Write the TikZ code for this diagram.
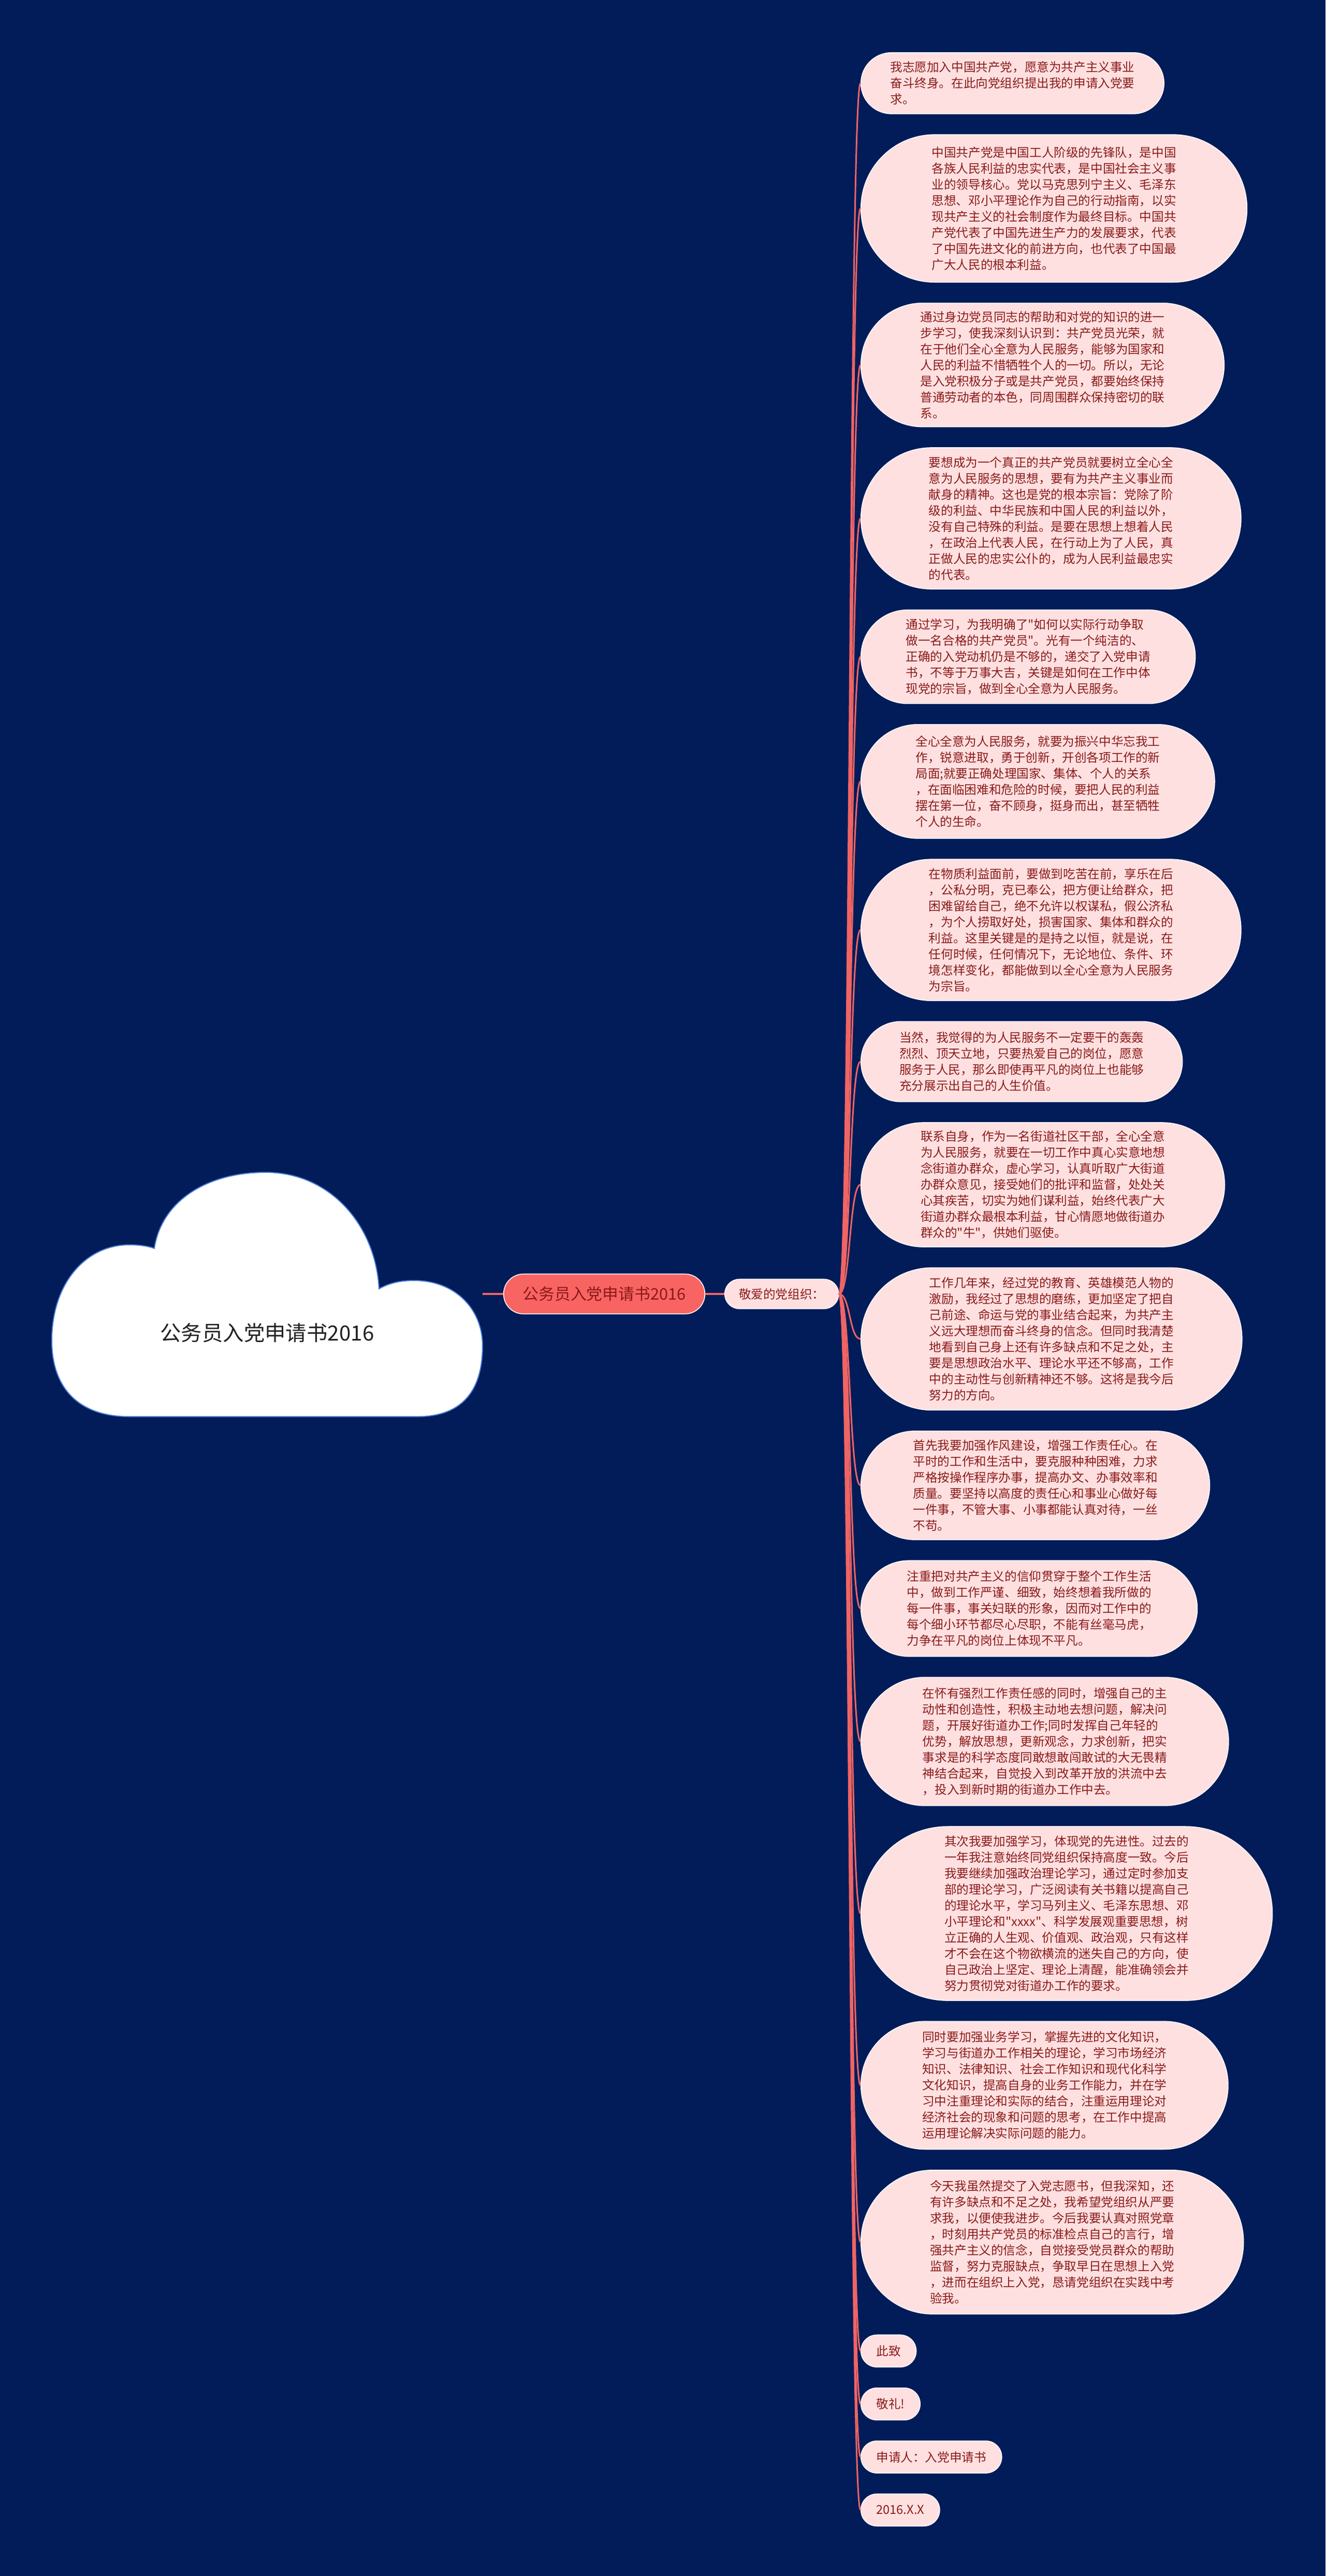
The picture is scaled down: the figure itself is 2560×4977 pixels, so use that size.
\documentclass[tikz,border=0pt]{standalone}
\usepackage{fontspec}
\newfontfamily\cjk{Noto Sans CJK SC}
\usetikzlibrary{positioning}
\definecolor{bgblue}{RGB}{1,28,88}
\definecolor{cloudblue}{RGB}{70,120,210}
\definecolor{mainred}{RGB}{248,100,98}
\definecolor{linkred}{RGB}{240,100,100}
\definecolor{leafpink}{RGB}{255,224,224}
\definecolor{leaftext}{RGB}{139,26,26}
\definecolor{titletext}{RGB}{34,34,34}

\begin{document}
\begin{tikzpicture}[x=0.25pt,y=-0.25pt]
  \tikzstyle{every node}=[font=\cjk]
  \tikzstyle{pill}=[rectangle, draw=white, line width=0.4pt,
    minimum height=#1*0.25pt, inner ysep=0pt, inner xsep=#1*0.12pt,
    rounded corners=#1*0.125pt-0.05pt]
  \tikzstyle{mainbox}=[pill=77, fill=mainred, text=leaftext,
    font=\cjk\fontsize{7.7}{9}\selectfont]
  \tikzstyle{leaf}=[pill=#1, fill=leafpink, text=leaftext,
    font=\cjk\fontsize{5.9}{7.75}\selectfont, align=left, anchor=north west]
  \fill[bgblue] (0,0) rectangle (2560,4977);
  % the cloud
  \filldraw[fill=white, draw=cloudblue, line width=0.5pt]
  (250,2737)
  .. controls (150,2737) and (100,2680) .. (100,2590)
  .. controls (100,2480) and (165,2405) .. (250,2405)
  .. controls (270,2405) and (288,2408) .. (298,2412)
  .. controls (312,2320) and (400,2265) .. (513,2265)
  .. controls (640,2265) and (726,2370) .. (732,2490)
  .. controls (752,2479) and (772,2474) .. (800,2474)
  .. controls (880,2474) and (932,2530) .. (932,2600)
  .. controls (932,2690) and (890,2737) .. (806,2737)
  -- cycle;
  \node[text=titletext, font=\cjk\fontsize{10.1}{12}\selectfont] (title) at (516,2575) {公务员入党申请书2016};
  \coordinate (cloudE) at (932,2500);
  \node[mainbox] (main) at (1167,2500) {公务员入党申请书2016};
  \node[leaf=57, anchor=west] (org) at (1399,2500) {敬爱的党组织：};
  % the leaves
  \node[leaf=118] (1) at (1662,101) {我志愿加入中国共产党，愿意为共产主义事业\\奋斗终身。在此向党组织提出我的申请入党要\\求。};
  \node[leaf=285, below right=9.7pt and 0pt of 1.south west] (2) {中国共产党是中国工人阶级的先锋队，是中国\\各族人民利益的忠实代表，是中国社会主义事\\业的领导核心。党以马克思列宁主义、毛泽东\\思想、邓小平理论作为自己的行动指南，以实\\现共产主义的社会制度作为最终目标。中国共\\产党代表了中国先进生产力的发展要求，代表\\了中国先进文化的前进方向，也代表了中国最\\广大人民的根本利益。};
  \node[leaf=239, below right=9.7pt and 0pt of 2.south west] (3) {通过身边党员同志的帮助和对党的知识的进一\\步学习，使我深刻认识到：共产党员光荣，就\\在于他们全心全意为人民服务，能够为国家和\\人民的利益不惜牺牲个人的一切。所以，无论\\是入党积极分子或是共产党员，都要始终保持\\普通劳动者的本色，同周围群众保持密切的联\\系。};
  \node[leaf=273, below right=9.7pt and 0pt of 3.south west] (4) {要想成为一个真正的共产党员就要树立全心全\\意为人民服务的思想，要有为共产主义事业而\\献身的精神。这也是党的根本宗旨：党除了阶\\级的利益、中华民族和中国人民的利益以外，\\没有自己特殊的利益。是要在思想上想着人民\\，在政治上代表人民，在行动上为了人民，真\\正做人民的忠实公仆的，成为人民利益最忠实\\的代表。};
  \node[leaf=181, below right=9.7pt and 0pt of 4.south west] (5) {通过学习，为我明确了"如何以实际行动争取\\做一名合格的共产党员"。光有一个纯洁的、\\正确的入党动机仍是不够的，递交了入党申请\\书，不等于万事大吉，关键是如何在工作中体\\现党的宗旨，做到全心全意为人民服务。};
  \node[leaf=220, below right=9.7pt and 0pt of 5.south west] (6) {全心全意为人民服务，就要为振兴中华忘我工\\作，锐意进取，勇于创新，开创各项工作的新\\局面;就要正确处理国家、集体、个人的关系\\，在面临困难和危险的时候，要把人民的利益\\摆在第一位，奋不顾身，挺身而出，甚至牺牲\\个人的生命。};
  \node[leaf=273, below right=9.7pt and 0pt of 6.south west] (7) {在物质利益面前，要做到吃苦在前，享乐在后\\，公私分明，克已奉公，把方便让给群众，把\\困难留给自己，绝不允许以权谋私，假公济私\\，为个人捞取好处，损害国家、集体和群众的\\利益。这里关键是的是持之以恒，就是说，在\\任何时候，任何情况下，无论地位、条件、环\\境怎样变化，都能做到以全心全意为人民服务\\为宗旨。};
  \node[leaf=155, below right=9.7pt and 0pt of 7.south west] (8) {当然，我觉得的为人民服务不一定要干的轰轰\\烈烈、顶天立地，只要热爱自己的岗位，愿意\\服务于人民，那么即使再平凡的岗位上也能够\\充分展示出自己的人生价值。};
  \node[leaf=240, below right=9.7pt and 0pt of 8.south west] (9) {联系自身，作为一名街道社区干部，全心全意\\为人民服务，就要在一切工作中真心实意地想\\念街道办群众，虚心学习，认真听取广大街道\\办群众意见，接受她们的批评和监督，处处关\\心其疾苦，切实为她们谋利益，始终代表广大\\街道办群众最根本利益，甘心情愿地做街道办\\群众的"牛"，供她们驱使。};
  \node[leaf=275, below right=9.7pt and 0pt of 9.south west] (10) {工作几年来，经过党的教育、英雄模范人物的\\激励，我经过了思想的磨练，更加坚定了把自\\己前途、命运与党的事业结合起来，为共产主\\义远大理想而奋斗终身的信念。但同时我清楚\\地看到自己身上还有许多缺点和不足之处，主\\要是思想政治水平、理论水平还不够高，工作\\中的主动性与创新精神还不够。这将是我今后\\努力的方向。};
  \node[leaf=210, below right=9.7pt and 0pt of 10.south west] (11) {首先我要加强作风建设，增强工作责任心。在\\平时的工作和生活中，要克服种种困难，力求\\严格按操作程序办事，提高办文、办事效率和\\质量。要坚持以高度的责任心和事业心做好每\\一件事，不管大事、小事都能认真对待，一丝\\不苟。};
  \node[leaf=185, below right=9.7pt and 0pt of 11.south west] (12) {注重把对共产主义的信仰贯穿于整个工作生活\\中，做到工作严谨、细致，始终想着我所做的\\每一件事，事关妇联的形象，因而对工作中的\\每个细小环节都尽心尽职，不能有丝毫马虎，\\力争在平凡的岗位上体现不平凡。};
  \node[leaf=248, below right=9.7pt and 0pt of 12.south west] (13) {在怀有强烈工作责任感的同时，增强自己的主\\动性和创造性，积极主动地去想问题，解决问\\题，开展好街道办工作;同时发挥自己年轻的\\优势，解放思想，更新观念，力求创新，把实\\事求是的科学态度同敢想敢闯敢试的大无畏精\\神结合起来，自觉投入到改革开放的洪流中去\\，投入到新时期的街道办工作中去。};
  \node[leaf=336, below right=9.7pt and 0pt of 13.south west] (14) {其次我要加强学习，体现党的先进性。过去的\\一年我注意始终同党组织保持高度一致。今后\\我要继续加强政治理论学习，通过定时参加支\\部的理论学习，广泛阅读有关书籍以提高自己\\的理论水平，学习马列主义、毛泽东思想、邓\\小平理论和"xxxx"、科学发展观重要思想，树\\立正确的人生观、价值观、政治观，只有这样\\才不会在这个物欲横流的迷失自己的方向，使\\自己政治上坚定、理论上清醒，能准确领会并\\努力贯彻党对街道办工作的要求。};
  \node[leaf=247, below right=9.7pt and 0pt of 14.south west] (15) {同时要加强业务学习，掌握先进的文化知识，\\学习与街道办工作相关的理论，学习市场经济\\知识、法律知识、社会工作知识和现代化科学\\文化知识，提高自身的业务工作能力，并在学\\习中注重理论和实际的结合，注重运用理论对\\经济社会的现象和问题的思考，在工作中提高\\运用理论解决实际问题的能力。};
  \node[leaf=278, below right=9.7pt and 0pt of 15.south west] (16) {今天我虽然提交了入党志愿书，但我深知，还\\有许多缺点和不足之处，我希望党组织从严要\\求我，以便使我进步。今后我要认真对照党章\\，时刻用共产党员的标准检点自己的言行，增\\强共产主义的信念，自觉接受党员群众的帮助\\监督，努力克服缺点，争取早日在思想上入党\\，进而在组织上入党，恳请党组织在实践中考\\验我。};
  \node[leaf=62, below right=9.7pt and 0pt of 16.south west] (17) {此致};
  \node[leaf=62, below right=9.7pt and 0pt of 17.south west] (18) {敬礼!};
  \node[leaf=62, below right=9.7pt and 0pt of 18.south west] (19) {申请人：入党申请书};
  \node[leaf=62, below right=9.7pt and 0pt of 19.south west] (20) {2016.X.X};
  % connectors
  \path[draw=linkred,line width=1.1pt]
  (cloudE) edge (main.west)
  (main.east) edge (org.west);
  \path[draw=linkred,line width=0.75pt,
    to path={.. controls +(22,0) and +(-22,0) .. (\tikztotarget)}]
  (org.east) edge (1.west)
  (org.east) edge (2.west)
  (org.east) edge (3.west)
  (org.east) edge (4.west)
  (org.east) edge (5.west)
  (org.east) edge (6.west)
  (org.east) edge (7.west)
  (org.east) edge (8.west)
  (org.east) edge (9.west)
  (org.east) edge (10.west)
  (org.east) edge (11.west)
  (org.east) edge (12.west)
  (org.east) edge (13.west)
  (org.east) edge (14.west)
  (org.east) edge (15.west)
  (org.east) edge (16.west)
  (org.east) edge (17.west)
  (org.east) edge (18.west)
  (org.east) edge (19.west)
  (org.east) edge (20.west);
\end{tikzpicture}
\end{document}
